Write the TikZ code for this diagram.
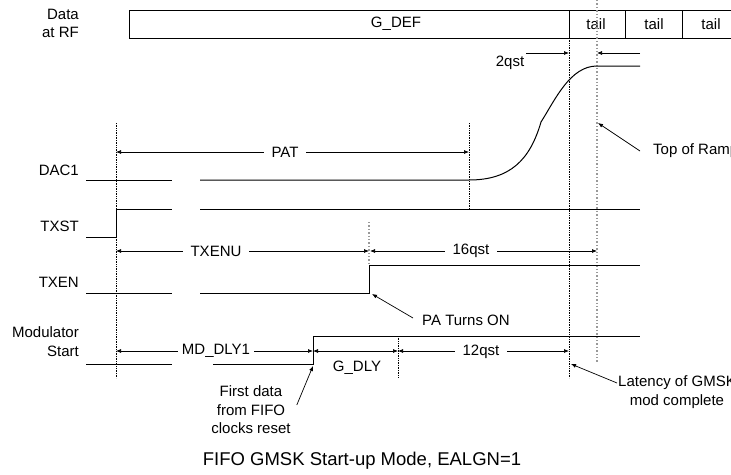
\documentclass[tikz,border=0pt]{standalone}
\usepackage{fontspec}
\setmainfont{Liberation Sans}
\usetikzlibrary{arrows.meta,positioning,calc}

\begin{document}
\begin{tikzpicture}[
    x=1pt, y=-1pt, >={Latex[length=5pt,width=4pt]},
    wave/.style={line width=1pt},
    guide/.style={densely dotted, line width=0.7pt},
    greyguide/.style={dotted, line width=1.4pt, black!40},
    dimline/.style={<->, line width=0.7pt},
    lbl/.style={font=\fontsize{15}{18.5}\selectfont, inner sep=1pt},
    gaplbl/.style={lbl, fill=white, inner xsep=8pt},
    sig/.style={lbl, anchor=east, align=right},
    call/.style={->, line width=0.7pt}
  ]
  \useasboundingbox (0,0) rectangle (731,474);

  % data at RF
  \draw[line width=0.8pt] (731,10) -- (129,10) -- (129,38) -- (731,38);
  \foreach \x in {569,625,682} \draw[line width=0.8pt] (\x,10) -- (\x,38);
  \node[lbl] (gdef) at (396,24) {G\_DEF};
  \foreach \x/\n in {596/taila,654/tailb,711/tailc}
    \node[lbl] (\n) at (\x,24) {tail};

  % signal names
  \node[sig] (rf)   at (80,23.5) {Data\\at RF};
  \node[sig] (dac)  at (80,170)  {DAC1};
  \node[sig] (txst) at (80,226)  {TXST};
  \node[sig] (txen) at (80,282)  {TXEN};
  \node[sig] (mod)  at (80,341.5) {Modulator\\Start};

  % guides
  \draw[guide] (116,123) -- (116,378);
  \draw[guide] (469,123) -- (469,209);
  \draw[guide] (569,38) -- (569,378);
  \draw[guide] (398,336) -- (398,378);
  \draw[greyguide] (369,222) -- (369,265);
  \draw[greyguide] (597,0) -- (597,363);

  % waveforms
  \draw[wave] (86,180) -- (172,180);
  \draw[wave] (200,180) -- (469,180)
    .. controls (510,180) and (530,160) .. (541,122)
    .. controls (555,100) and (570,66) .. (597,66) -- (640,66);
  \draw[wave] (86,237) -- (116,237) -- (116,209) -- (172,209);
  \draw[wave] (200,209) -- (640,209);
  \draw[wave] (86,293) -- (172,293);
  \draw[wave] (200,293) -- (369,293) -- (369,265) -- (640,265);
  \draw[wave] (86,364) -- (172,364);
  \draw[wave] (213,364) -- (313,364) -- (313,336) -- (640,336);

  % spans
  \coordinate (tx)  at (116,0);
  \coordinate (pat) at (469,0);
  \coordinate (on)  at (369,0);
  \coordinate (top) at (597,0);
  \coordinate (md)  at (313,0);
  \coordinate (gd)  at (398,0);
  \coordinate (lat) at (569,0);

  \draw[dimline] (tx |- 0,152) -- (pat |- 0,152);
  \node[gaplbl] (patl) at (285,152) {PAT};
  \draw[dimline] (tx |- 0,251) -- (on |- 0,251);
  \node[gaplbl] (txenul) at (216,251) {TXENU};
  \draw[dimline] ([xshift=1pt]on |- 0,251) -- (top |- 0,251);
  \node[gaplbl] (qst16) at (471,251) {16qst};
  \draw[dimline] (tx |- 0,351) -- (md |- 0,351);
  \node[gaplbl, inner xsep=4pt] (mddly) at (216,351) {MD\_DLY1};
  \draw[dimline] (md |- 0,351) -- (gd |- 0,351);
  \node[lbl] (gdly) at (357,368) {G\_DLY};
  \draw[dimline] (gd |- 0,351) -- (lat |- 0,351);
  \node[gaplbl] (qst12) at (481,352) {12qst};

  \draw[->, line width=0.7pt] (526,53) -- (lat |- 0,53);
  \draw[->, line width=0.7pt] (640,53) -- (top |- 0,53);
  \node[lbl] (qst2) at (510,63) {2qst};

  % callouts
  \node[lbl, anchor=west] (ramp) at (652,151) {Top of Ramp};
  \draw[call] ([xshift=-12pt]ramp.west) -- (598,123);
  \node[lbl, anchor=west] (paon) at (421,320) {PA Turns ON};
  \draw[call] ([xshift=-8pt,yshift=2pt]paon.west) -- (372,294);
  \node[lbl, align=center] (latency) at (677,392) {Latency of GMSK\\mod complete};
  \draw[call] ([yshift=9pt]latency.west) -- (571,364);
  \node[lbl, align=center] (first) at (251,410) {First data\\from FIFO\\clocks reset};
  \draw[call] ([xshift=5pt,yshift=5pt]first.east) -- (313,366);

  \node[font=\fontsize{18.5}{22}\selectfont, inner sep=1pt] (caption) at (362,461)
    {FIFO GMSK Start-up Mode, EALGN=1};
\end{tikzpicture}
\end{document}
